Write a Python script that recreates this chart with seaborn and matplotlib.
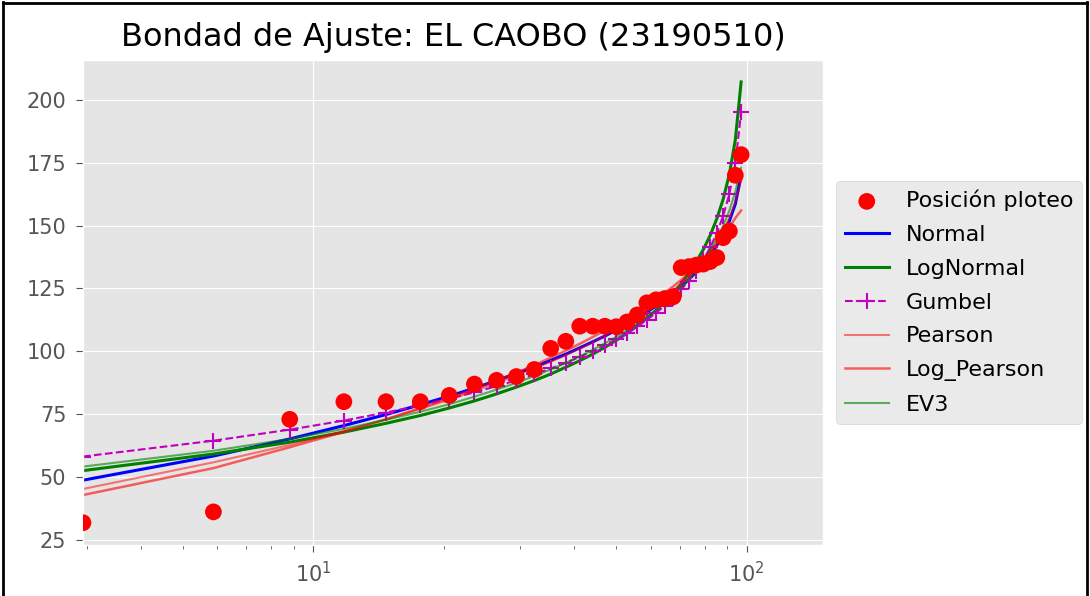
import numpy as np
import pandas as pd
import seaborn as sns
import matplotlib.pyplot as plt
from matplotlib.lines import Line2D

# plotting position (% non-exceedance)
prob = [2.94, 5.88, 8.82, 11.76, 14.71, 17.65, 20.59, 23.53, 26.47, 29.41, 32.35,
        35.29, 38.24, 41.18, 44.12, 47.06, 50.00, 52.94, 55.88, 58.82, 61.76, 64.71,
        67.65, 70.59, 73.53, 76.47, 79.41, 82.35, 85.29, 88.24, 91.18, 94.12, 97.06]

observed = [31.9, 36.2, 73.0, 80.0, 80.0, 80.0, 82.5, 87.0, 88.5, 90.0, 92.8,
            101.2, 104.0, 110.0, 110.0, 110.0, 109.8, 111.7, 114.5, 119.3, 120.5, 121.0,
            121.7, 133.3, 133.7, 134.3, 134.7, 135.7, 137.3, 145.2, 147.8, 170.0, 178.2]

normal = [48.8, 58.4, 65.2, 70.5, 74.9, 78.8, 82.2, 85.4, 88.4, 91.2, 93.8,
          96.4, 98.9, 101.4, 103.8, 106.1, 108.5, 110.9, 113.2, 115.6, 118.1, 120.6,
          123.2, 125.8, 128.6, 131.6, 134.8, 138.2, 142.1, 146.5, 151.8, 158.6, 170.0]

lognormal = [52.6, 59.2, 63.9, 67.9, 71.4, 74.5, 77.5, 80.3, 83.1, 85.8, 88.4,
             91.0, 93.7, 96.3, 98.9, 101.6, 104.4, 107.2, 110.1, 113.2, 116.3, 119.7,
             123.2, 126.9, 131.1, 135.6, 140.5, 146.1, 152.7, 160.5, 170.4, 184.1, 207.1]

gumbel = [58.2, 64.5, 68.9, 72.5, 75.7, 78.5, 81.2, 83.7, 86.2, 88.5, 90.9,
          93.2, 95.5, 97.8, 100.1, 102.4, 104.8, 107.3, 109.9, 112.5, 115.3, 118.2,
          121.3, 124.6, 128.1, 132.1, 136.4, 141.3, 147.0, 153.9, 162.6, 174.7, 195.0]

pearson = [45.3, 55.9, 62.8, 68.3, 73.0, 77.1, 80.8, 84.2, 87.4, 90.4, 93.2,
           95.9, 98.5, 101.1, 103.6, 106.1, 108.6, 111.1, 113.6, 116.1, 118.7, 121.3,
           124.0, 126.8, 129.7, 132.8, 136.1, 139.6, 143.5, 147.9, 153.0, 159.3, 168.0]

log_pearson = [42.9, 53.6, 61.9, 68.0, 73.0, 77.5, 81.5, 85.0, 88.5, 91.5, 94.5,
               97.5, 100.3, 103.0, 105.7, 108.3, 110.8, 113.3, 115.8, 118.3, 120.8, 123.3,
               125.8, 128.4, 131.0, 133.7, 136.5, 139.4, 142.5, 145.8, 149.3, 153.0, 156.0]

ev3 = [54.2, 60.5, 65.2, 69.2, 72.8, 76.0, 79.0, 82.0, 84.8, 87.5, 90.2,
       92.8, 95.4, 98.0, 100.6, 103.2, 105.8, 108.4, 111.0, 113.7, 116.5, 119.3,
       122.3, 125.4, 128.7, 132.2, 136.0, 140.2, 144.8, 150.0, 156.0, 163.5, 173.0]

df = pd.DataFrame({'prob': prob, 'obs': observed, 'Normal': normal,
                   'LogNormal': lognormal, 'Gumbel': gumbel, 'Pearson': pearson,
                   'Log_Pearson': log_pearson, 'EV3': ev3})

plt.style.use('ggplot')
plt.rcParams['font.family'] = ['DejaVu Sans']

fig = plt.figure(figsize=(10.9, 5.96), dpi=100)
ax = fig.add_axes([0.0761, 0.086, 0.679, 0.8135])

sns.scatterplot(data=df, x='prob', y='obs', color='red', s=145,
                edgecolor='none', label='Posición ploteo', ax=ax, zorder=3)
sns.lineplot(data=df, x='prob', y='Normal', color='blue', lw=2.2,
             label='Normal', ax=ax, estimator=None, sort=False)
sns.lineplot(data=df, x='prob', y='LogNormal', color='green', lw=2.2,
             label='LogNormal', ax=ax, estimator=None, sort=False)
sns.lineplot(data=df, x='prob', y='Gumbel', color='m', lw=1.5, linestyle='--',
             marker='+', markersize=11, markeredgewidth=1.5, markeredgecolor='m',
             label='Gumbel', ax=ax, estimator=None, sort=False)
sns.lineplot(data=df, x='prob', y='Pearson', color='red', lw=1.5, alpha=0.5,
             label='Pearson', ax=ax, estimator=None, sort=False)
sns.lineplot(data=df, x='prob', y='Log_Pearson', color='red', lw=1.8, alpha=0.6,
             label='Log_Pearson', ax=ax, estimator=None, sort=False)
sns.lineplot(data=df, x='prob', y='EV3', color='green', lw=1.5, alpha=0.6,
             label='EV3', ax=ax, estimator=None, sort=False)

ax.set_xscale('log')
ax.set_xlim(prob[0], 150)
ax.set_xlabel('')
ax.set_ylabel('')
ax.set_yticks([25, 50, 75, 100, 125, 150, 175, 200])
ax.tick_params(axis='both', which='major', labelsize=15, length=5, pad=7,
               colors='#555555')
ax.tick_params(axis='x', which='minor', length=3, colors='#555555')
ax.set_title('Bondad de Ajuste: EL CAOBO (23190510)', fontsize=23, color='black',
             pad=10)

ax.legend(loc='center left', bbox_to_anchor=(1.002, 0.5), fontsize=16,
          labelspacing=0.62, handletextpad=0.75,
          facecolor='#E5E5E5', edgecolor='0.8', framealpha=0.8)

# black edge around the figure (left, top, right)
for xs, ys in [([0.003, 0.003], [0, 0.997]), ([0.003, 0.997], [0.995, 0.995]),
               ([0.997, 0.997], [0, 0.997])]:
  fig.add_artist(Line2D(xs, ys, color='black', lw=2, transform=fig.transFigure))

fig.savefig('out.png', dpi=100)
